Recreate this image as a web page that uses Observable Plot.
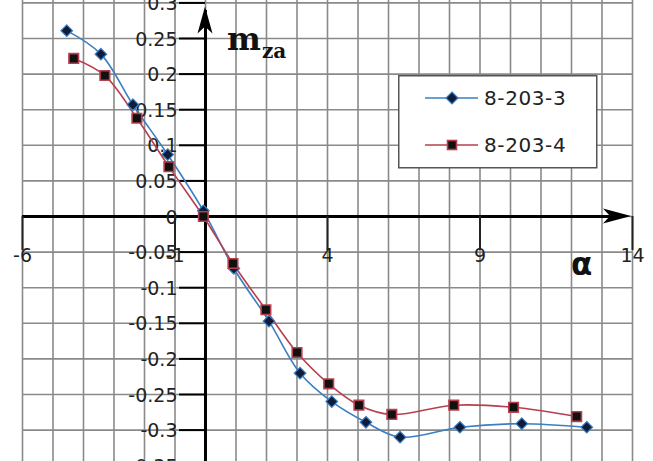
<!DOCTYPE html>
<html>
<head>
<meta charset="utf-8">
<script src="https://cdn.jsdelivr.net/npm/d3@7"></script>
<script src="https://cdn.jsdelivr.net/npm/@observablehq/plot@0.6"></script>
<style>
  html, body { margin: 0; padding: 0; background: #fff; }
  #wrap { position: relative; width: 653px; height: 461px; overflow: hidden; }
  #overlay { position: absolute; left: 0; top: 0; pointer-events: none; }
</style>
</head>
<body>
<div id="wrap"></div>
<script>
// ---- data ----
const series3Name = "8-203-3";
const alpha3 = [-4.55, -3.43, -2.38, -1.24, -0.07, 0.93, 2.08, 3.1, 4.14, 5.26, 6.38, 8.34, 10.37, 12.5];
const mza3   = [0.261, 0.228, 0.157, 0.087, 0.008, -0.073, -0.147, -0.220, -0.260, -0.289, -0.310, -0.296, -0.291, -0.296];

const series4Name = "8-203-4";
const alpha4 = [-4.32, -3.30, -2.25, -1.2, -0.07, 0.9, 1.98, 3.0, 4.04, 5.03, 6.11, 8.14, 10.1, 12.17];
const mza4   = [0.222, 0.198, 0.138, 0.070, 0.0, -0.066, -0.131, -0.191, -0.235, -0.265, -0.278, -0.265, -0.268, -0.281];

const xTickValues = [-6, -1, 4, 9, 14];
const xTickLabels = ["-6", "-1", "4", "9", "14"];
const yTickValues = [0.3, 0.25, 0.2, 0.15, 0.1, 0.05, 0, -0.05, -0.1, -0.15, -0.2, -0.25, -0.3, -0.35];
const yTickLabels = ["0.3", "0.25", "0.2", "0.15", "0.1", "0.05", "0", "-0.05", "-0.1", "-0.15", "-0.2", "-0.25", "-0.3", "-0.35"];
const xGrid = [-6,-5,-4,-3,-2,-1,0,1,2,3,4,5,6,7,8,9,10,11,12,13,14];
const yGrid = yTickValues;

const blue = "#3b7ec2";
const red = "#b83f4e";

const d3s = alpha3.map((a, i) => ({a, m: mza3[i], s: series3Name}));
const d4s = alpha4.map((a, i) => ({a, m: mza4[i], s: series4Name}));

const tickFont = "'DejaVu Sans', sans-serif";

const plot = Plot.plot({
  width: 653,
  height: 461,
  margin: 0,
  style: {background: "#fff", fontFamily: tickFont, fontSize: "19px", color: "#222"},
  x: {domain: [-6, 14], range: [22, 632], axis: null},
  y: {domain: [-0.35, 0.3], range: [465.2, 2.4], axis: null},
  marks: [
    Plot.ruleX(xGrid, {stroke: "#8a8a8a", strokeWidth: 1.6}),
    Plot.ruleY(yGrid, {x1: -6, x2: 14, stroke: "#8a8a8a", strokeWidth: 1.6}),
    // axes through the origin
    Plot.ruleX([0], {stroke: "#000", strokeWidth: 3, insetTop: 10}),
    Plot.ruleY([0], {x1: -6, x2: 14, stroke: "#000", strokeWidth: 3, insetRight: 10}),
    // tick marks
    Plot.ruleY(yTickValues, {x1: 0, x2: 0, insetLeft: -26, stroke: "#000", strokeWidth: 2}),
    Plot.ruleX(xTickValues, {y1: 0, y2: 0, insetBottom: -34, stroke: "#222", strokeWidth: 2}),
    // tick labels
    Plot.text(yTickValues, {x: 0, y: d => d, text: (d, i) => yTickLabels[i], dx: -28, dy: 1, textAnchor: "end", fill: "#222"}),
    Plot.text(xTickValues, {x: d => d, y: 0, text: (d, i) => xTickLabels[i], dy: 39, fill: "#222"}),
    // series
    Plot.line(d3s, {x: "a", y: "m", stroke: blue, strokeWidth: 1.6, curve: "catmull-rom"}),
    Plot.line(d4s, {x: "a", y: "m", stroke: red, strokeWidth: 1.6, curve: "catmull-rom"}),
    Plot.dot(d3s, {x: "a", y: "m", symbol: "diamond2", r: 5.2, fill: "#0f1d3a", stroke: blue, strokeWidth: 1.2}),
    Plot.dot(d4s, {x: "a", y: "m", symbol: "square", r: 5.4, fill: "#111", stroke: red, strokeWidth: 1.6})
  ]
});

// arrowheads on the axes, placed through the plot's scales
const sx = plot.scale("x"), sy = plot.scale("y");
const svg = d3.select(plot.tagName.toLowerCase() === "svg" ? plot : plot.querySelector("svg"));
const tx = sx.apply(14) - 1, ty = sy.apply(0);
svg.append("path")
  .attr("d", `M${tx},${ty} L${tx - 28},${ty - 7.5} L${tx - 21},${ty} L${tx - 28},${ty + 7.5} Z`)
  .attr("fill", "#000");
const ax = sx.apply(0), ay = sy.apply(0.3) + 4;
svg.append("path")
  .attr("d", `M${ax},${ay} L${ax - 7.5},${ay + 27} L${ax},${ay + 20} L${ax + 7.5},${ay + 27} Z`)
  .attr("fill", "#000");

const wrap = document.getElementById("wrap");
wrap.appendChild(plot);

// overlay: axis titles and legend
const ov = d3.select(wrap).append("svg")
  .attr("id", "overlay").attr("width", 653).attr("height", 461);

ov.append("text").attr("x", 227).attr("y", 50)
  .attr("font-family", "'DejaVu Serif', serif").attr("font-weight", "bold")
  .attr("font-size", 32).attr("fill", "#111").text("m");
ov.append("text").attr("x", 262).attr("y", 58)
  .attr("font-family", "'DejaVu Serif', serif").attr("font-weight", "bold")
  .attr("font-size", 20).attr("fill", "#111").text("za");
ov.append("text").attr("x", 571).attr("y", 275)
  .attr("font-family", "'DejaVu Sans', sans-serif").attr("font-weight", "bold")
  .attr("font-size", 31).attr("fill", "#111").text("α");

const lg = ov.append("g").attr("transform", "translate(398,75)");
lg.append("rect").attr("x", 0.75).attr("y", 0.75).attr("width", 198).attr("height", 92)
  .attr("fill", "#fff").attr("stroke", "#555").attr("stroke-width", 1.5);
const entries = [
  {name: series3Name, color: blue, sym: "diamond", y: 23},
  {name: series4Name, color: red, sym: "square", y: 70}
];
entries.forEach(e => {
  lg.append("line").attr("x1", 27).attr("x2", 80).attr("y1", e.y).attr("y2", e.y)
    .attr("stroke", e.color).attr("stroke-width", 1.6);
  if (e.sym === "diamond") {
    lg.append("path").attr("d", `M54,${e.y - 6} L60,${e.y} L54,${e.y + 6} L48,${e.y} Z`)
      .attr("fill", "#0f1d3a").attr("stroke", e.color).attr("stroke-width", 1.2);
  } else {
    lg.append("rect").attr("x", 49.5).attr("y", e.y - 4.5).attr("width", 9).attr("height", 9)
      .attr("fill", "#111").attr("stroke", e.color).attr("stroke-width", 1.6);
  }
  lg.append("text").attr("x", 86).attr("y", e.y).attr("dy", "0.36em")
    .attr("font-family", tickFont).attr("font-size", 20).attr("letter-spacing", "0.6px")
    .attr("fill", "#222").text(e.name);
});
</script>
</body>
</html>
